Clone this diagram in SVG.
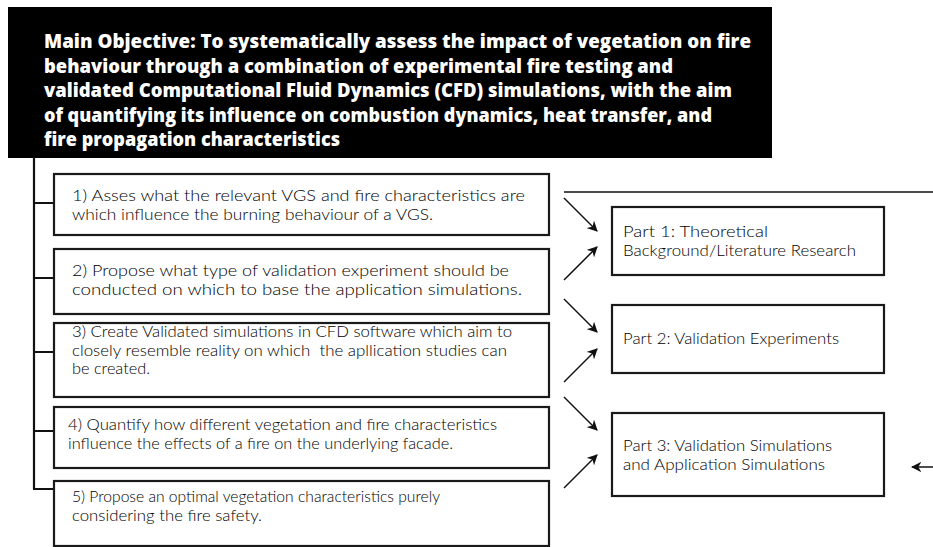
<svg xmlns="http://www.w3.org/2000/svg" width="933" height="547" viewBox="0 0 933 547">
<defs>
<style>
.title{font-family:"Open Sans","Liberation Sans",sans-serif;font-weight:800;font-size:19.5px;fill:#fff}
.box{fill:#fff;stroke:#1a1a1a;stroke-width:2.2}
.txt{font-family:Lato,"Open Sans","Liberation Sans",sans-serif;font-weight:300;font-size:15.5px;fill:#000}
.tree{fill:none;stroke:#111;stroke-width:2.2}
.arr{stroke:#111;stroke-width:1.5;fill:none;marker-end:url(#ah)}
</style>
<marker id="ah" viewBox="0 0 10 10" refX="9" refY="5" markerWidth="7" markerHeight="7" markerUnits="strokeWidth" orient="auto">
<path d="M0,0 L10,5 L0,10 L3,5 Z" fill="#111"/>
</marker>
</defs>
<rect width="933" height="547" fill="#fff"/>

<g id="main-objective">
<rect x="8" y="7" width="764" height="151" fill="#000"/>
<text class="title" x="44" y="48" textLength="707" lengthAdjust="spacingAndGlyphs">Main Objective: To systematically assess the impact of vegetation on fire</text>
<text class="title" x="44" y="72.5" textLength="629" lengthAdjust="spacingAndGlyphs">behaviour through a combination of experimental fire testing and</text>
<text class="title" x="44" y="97" textLength="688" lengthAdjust="spacingAndGlyphs">validated Computational Fluid Dynamics (CFD) simulations, with the aim</text>
<text class="title" x="44" y="121.5" textLength="668" lengthAdjust="spacingAndGlyphs">of quantifying its influence on combustion dynamics, heat transfer, and</text>
<text class="title" x="44" y="146" textLength="296" lengthAdjust="spacingAndGlyphs">fire propagation characteristics</text>
</g>

<g id="connectors">
<path class="tree" d="M34,157 V489 M33,203 H54 M33,278 H54 M33,352 H54 M33,431 H54 M33,489 H54"/>
<line x1="564" y1="192" x2="933" y2="192" stroke="#111" stroke-width="1.5"/>
<line class="arr" x1="564" y1="198" x2="597" y2="231"/>
<line class="arr" x1="564" y1="280" x2="597" y2="247"/>
<line class="arr" x1="564" y1="299" x2="597" y2="332"/>
<line class="arr" x1="564" y1="382" x2="597" y2="349"/>
<line class="arr" x1="564" y1="397" x2="597" y2="430"/>
<line class="arr" x1="564" y1="488" x2="597" y2="455"/>
<line class="arr" x1="933" y1="467" x2="912" y2="467"/>
</g>

<g id="obj1">
<rect class="box" x="54" y="174" width="495" height="61"/>
<text class="txt" x="72" y="201" textLength="453" lengthAdjust="spacingAndGlyphs">1) Asses what the relevant VGS and fire characteristics are</text>
<text class="txt" x="72" y="219.7" textLength="361" lengthAdjust="spacingAndGlyphs">which influence the burning behaviour of a VGS.</text>
</g>

<g id="obj2">
<rect class="box" x="54" y="249" width="495" height="65"/>
<text class="txt" x="72" y="276" textLength="437" lengthAdjust="spacingAndGlyphs">2) Propose what type of validation experiment should be</text>
<text class="txt" x="72" y="294.7" textLength="450" lengthAdjust="spacingAndGlyphs">conducted on which to base the application simulations.</text>
</g>

<g id="obj3">
<rect class="box" x="54" y="323" width="495" height="74"/>
<text class="txt" x="72" y="337" textLength="440" lengthAdjust="spacingAndGlyphs">3) Create Validated simulations in CFD software which aim to</text>
<text class="txt" x="72" y="355.7" textLength="435" lengthAdjust="spacingAndGlyphs" xml:space="preserve">closely resemble reality on which  the apllication studies can</text>
<text class="txt" x="72" y="374.4" textLength="78" lengthAdjust="spacingAndGlyphs">be created.</text>
</g>

<g id="obj4">
<rect class="box" x="54" y="407" width="495" height="61"/>
<text class="txt" x="68" y="430" textLength="429" lengthAdjust="spacingAndGlyphs">4) Quantify how different vegetation and fire characteristics</text>
<text class="txt" x="68" y="448.7" textLength="385" lengthAdjust="spacingAndGlyphs">influence the effects of a fire on the underlying facade.</text>
</g>

<g id="obj5">
<rect class="box" x="54" y="481" width="495" height="65"/>
<text class="txt" x="72" y="502" textLength="368" lengthAdjust="spacingAndGlyphs">5) Propose an optimal vegetation characteristics purely</text>
<text class="txt" x="72" y="520.7" textLength="190" lengthAdjust="spacingAndGlyphs">considering the fire safety.</text>
</g>

<g id="part1">
<rect class="box" x="612" y="207" width="272" height="68"/>
<text class="txt" x="623" y="237" textLength="145" lengthAdjust="spacingAndGlyphs">Part 1: Theoretical</text>
<text class="txt" x="623" y="255.7" textLength="233" lengthAdjust="spacingAndGlyphs">Background/Literature Research</text>
</g>

<g id="part2">
<rect class="box" x="612" y="305" width="272" height="68"/>
<text class="txt" x="623" y="344" textLength="216" lengthAdjust="spacingAndGlyphs">Part 2: Validation Experiments</text>
</g>

<g id="part3">
<rect class="box" x="612" y="413" width="272" height="83"/>
<text class="txt" x="623" y="451" textLength="209" lengthAdjust="spacingAndGlyphs">Part 3: Validation Simulations</text>
<text class="txt" x="623" y="469.7" textLength="202" lengthAdjust="spacingAndGlyphs">and Application Simulations</text>
</g>
</svg>
